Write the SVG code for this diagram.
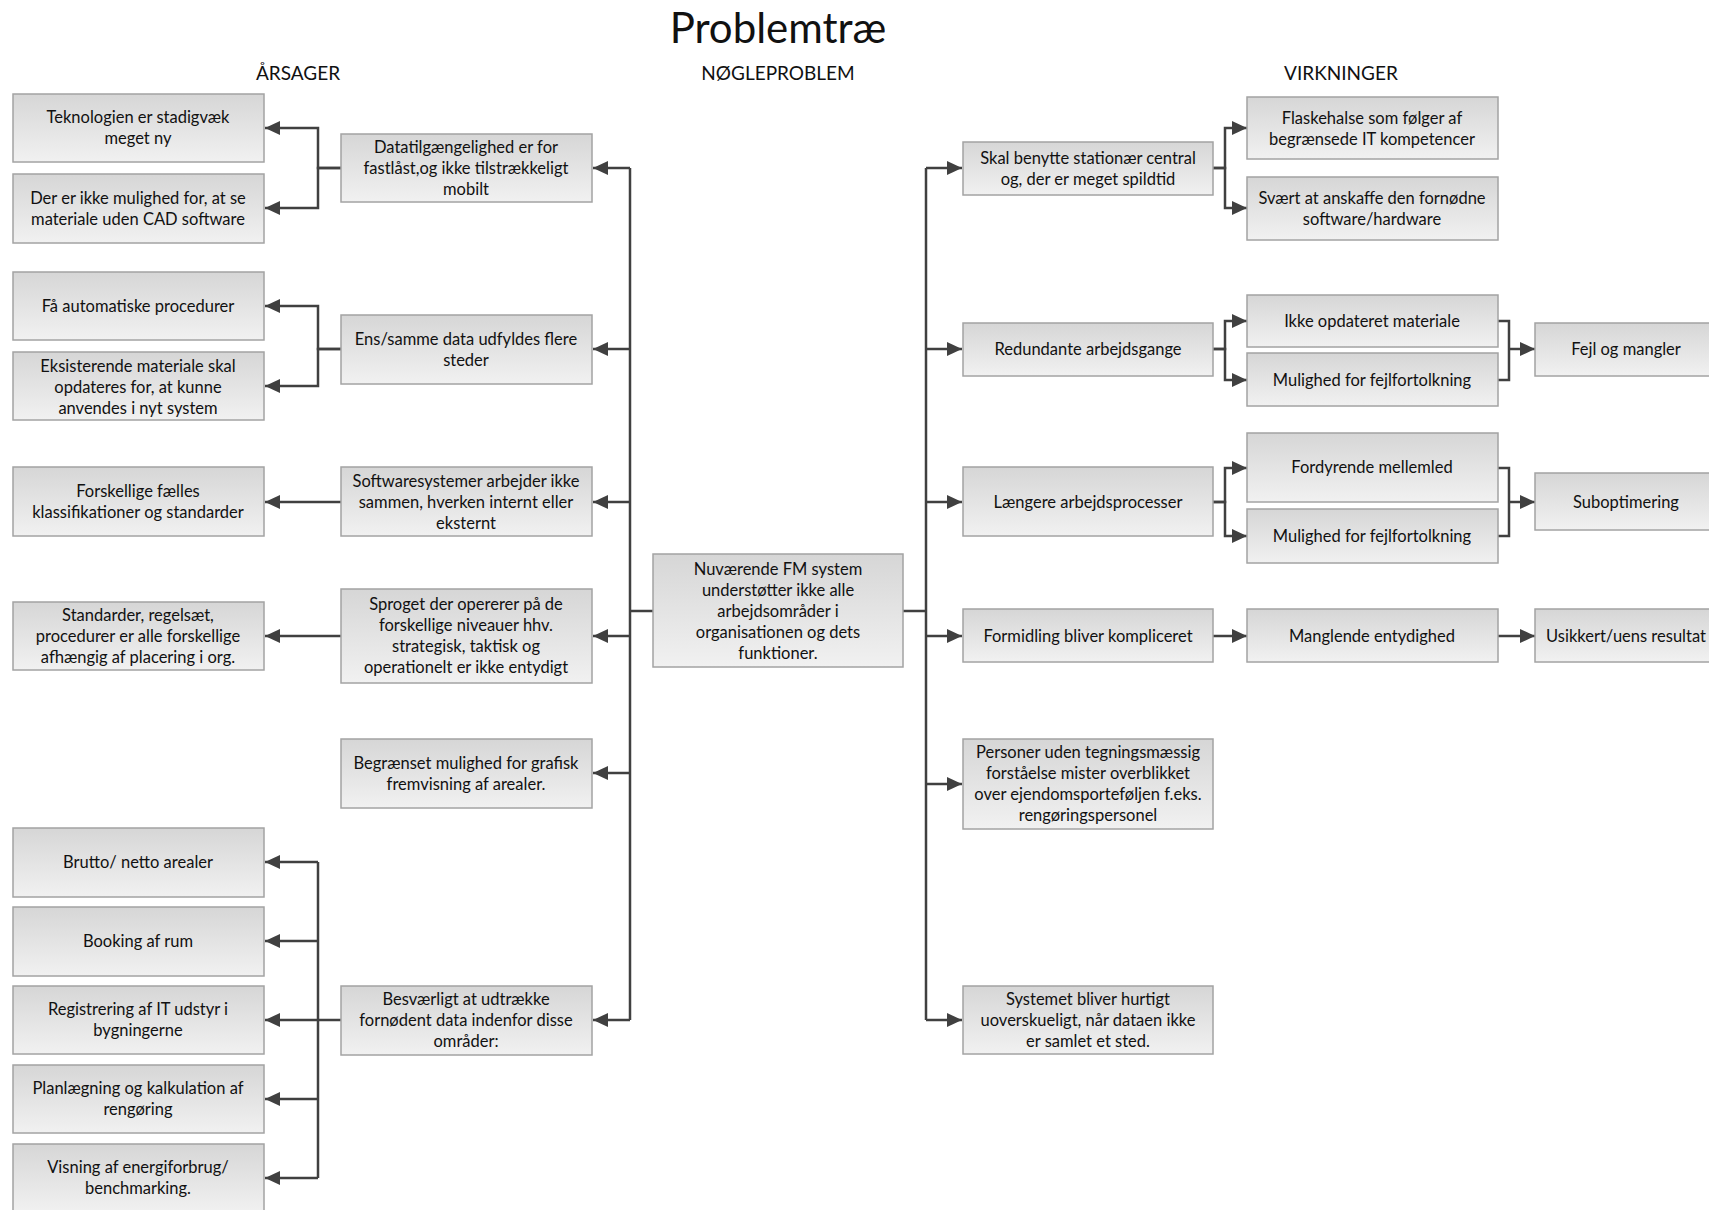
<svg xmlns="http://www.w3.org/2000/svg" width="1709" height="1210" viewBox="0 0 1709 1210">
  <defs>
    <linearGradient id="boxFill" x1="0" y1="0" x2="0" y2="1">
      <stop offset="0" stop-color="#d6d6d6"/>
      <stop offset="1" stop-color="#f1f1f1"/>
    </linearGradient>
    <marker id="ah" markerUnits="userSpaceOnUse" markerWidth="16" markerHeight="14" refX="15" refY="7" orient="auto">
      <path d="M0,0 L15,7 L0,14 z" fill="#404040"/>
    </marker>
  </defs>
  <style>
    .box { fill: url(#boxFill); stroke: #a3a3a3; stroke-width: 1.5; }
    .lbl { font-family: Lato, "Liberation Sans", sans-serif; font-size: 16.5px; fill: #111111; text-anchor: middle; dominant-baseline: central; }
    .hdr { font-family: Lato, "Liberation Sans", sans-serif; font-size: 19px; fill: #111111; text-anchor: middle; }
    .title { font-family: Lato, "Liberation Sans", sans-serif; font-size: 42px; fill: #111111; text-anchor: middle; }
    .ln { fill: none; stroke: #404040; stroke-width: 2.5; }
    .ar { fill: none; stroke: #404040; stroke-width: 2.5; marker-end: url(#ah); }
  </style>
  <rect width="1709" height="1210" fill="#ffffff"/>

  <!-- headings -->
  <text class="title" x="778" y="43">Problemtræ</text>
  <text class="hdr" x="298" y="80">ÅRSAGER</text>
  <text class="hdr" x="778" y="80">NØGLEPROBLEM</text>
  <text class="hdr" x="1341" y="80">VIRKNINGER</text>

  <!-- connectors -->
  <g id="connectors">
    <!-- causes branch -->
    <path class="ln" d="M653,611 H630 M630,168 V1020"/>
    <path class="ar" d="M630,168 H593"/>
    <path class="ar" d="M630,349 H593"/>
    <path class="ar" d="M630,502 H593"/>
    <path class="ar" d="M630,636 H593"/>
    <path class="ar" d="M630,773 H593"/>
    <path class="ar" d="M630,1020 H593"/>

    <path class="ar" d="M341,168 H318 V128 H265"/>
    <path class="ar" d="M341,168 H318 V208 H265"/>
    <path class="ar" d="M341,349 H318 V306 H265"/>
    <path class="ar" d="M341,349 H318 V386 H265"/>
    <path class="ar" d="M341,502 H265"/>
    <path class="ar" d="M341,636 H265"/>
    <path class="ln" d="M341,1020 H318 M318,862 V1178"/>
    <path class="ar" d="M318,862 H265"/>
    <path class="ar" d="M318,941 H265"/>
    <path class="ar" d="M318,1020 H265"/>
    <path class="ar" d="M318,1099 H265"/>
    <path class="ar" d="M318,1178 H265"/>

    <!-- effects branch -->
    <path class="ln" d="M903,611 H926 M926,168 V1020"/>
    <path class="ar" d="M926,168 H962"/>
    <path class="ar" d="M926,349 H962"/>
    <path class="ar" d="M926,502 H962"/>
    <path class="ar" d="M926,636 H962"/>
    <path class="ar" d="M926,784 H962"/>
    <path class="ar" d="M926,1020 H962"/>

    <path class="ar" d="M1213,168 H1225 V128 H1247"/>
    <path class="ar" d="M1213,168 H1225 V208 H1247"/>
    <path class="ar" d="M1213,349 H1225 V321 H1247"/>
    <path class="ar" d="M1213,349 H1225 V380 H1247"/>
    <path class="ln" d="M1498,321 H1509 V380 H1498"/>
    <path class="ar" d="M1509,349 H1535"/>
    <path class="ar" d="M1213,502 H1225 V468 H1247"/>
    <path class="ar" d="M1213,502 H1225 V536 H1247"/>
    <path class="ln" d="M1498,468 H1509 V536 H1498"/>
    <path class="ar" d="M1509,502 H1535"/>
    <path class="ar" d="M1213,636 H1247"/>
    <path class="ar" d="M1498,636 H1535"/>
  </g>

  <!-- key problem -->
  <g id="core">
    <rect class="box" x="653" y="554" width="250" height="113"/>
    <text class="lbl" x="778" y="569">Nuværende FM system</text>
    <text class="lbl" x="778" y="590">understøtter ikke alle</text>
    <text class="lbl" x="778" y="611">arbejdsområder i</text>
    <text class="lbl" x="778" y="632">organisationen og dets</text>
    <text class="lbl" x="778" y="653">funktioner.</text>
  </g>

  <!-- causes -->
  <g id="c1">
    <rect class="box" x="341" y="134" width="251" height="68"/>
    <text class="lbl" x="466" y="147">Datatilgængelighed er for</text>
    <text class="lbl" x="466" y="168">fastlåst,og ikke tilstrækkeligt</text>
    <text class="lbl" x="466" y="189">mobilt</text>
  </g>
  <g id="c2">
    <rect class="box" x="341" y="315" width="251" height="69"/>
    <text class="lbl" x="466" y="339">Ens/samme data udfyldes flere</text>
    <text class="lbl" x="466" y="360">steder</text>
  </g>
  <g id="c3">
    <rect class="box" x="341" y="467" width="251" height="69"/>
    <text class="lbl" x="466" y="481">Softwaresystemer arbejder ikke</text>
    <text class="lbl" x="466" y="502">sammen, hverken internt eller</text>
    <text class="lbl" x="466" y="523">eksternt</text>
  </g>
  <g id="c4">
    <rect class="box" x="341" y="589" width="251" height="94"/>
    <text class="lbl" x="466" y="604">Sproget der opererer på de</text>
    <text class="lbl" x="466" y="625">forskellige niveauer hhv.</text>
    <text class="lbl" x="466" y="646">strategisk, taktisk og</text>
    <text class="lbl" x="466" y="667">operationelt er ikke entydigt</text>
  </g>
  <g id="c5">
    <rect class="box" x="341" y="739" width="251" height="69"/>
    <text class="lbl" x="466" y="763">Begrænset mulighed for grafisk</text>
    <text class="lbl" x="466" y="784">fremvisning af arealer.</text>
  </g>
  <g id="c6">
    <rect class="box" x="341" y="986" width="251" height="69"/>
    <text class="lbl" x="466" y="999">Besværligt at udtrække</text>
    <text class="lbl" x="466" y="1020">fornødent data indenfor disse</text>
    <text class="lbl" x="466" y="1041">områder:</text>
  </g>

  <!-- root causes -->
  <g id="r1">
    <rect class="box" x="13" y="94" width="251" height="68"/>
    <text class="lbl" x="138" y="117">Teknologien er stadigvæk</text>
    <text class="lbl" x="138" y="138">meget ny</text>
  </g>
  <g id="r2">
    <rect class="box" x="13" y="174" width="251" height="69"/>
    <text class="lbl" x="138" y="198">Der er ikke mulighed for, at se</text>
    <text class="lbl" x="138" y="219">materiale uden CAD software</text>
  </g>
  <g id="r3">
    <rect class="box" x="13" y="272" width="251" height="68"/>
    <text class="lbl" x="138" y="306">Få automatiske procedurer</text>
  </g>
  <g id="r4">
    <rect class="box" x="13" y="352" width="251" height="68"/>
    <text class="lbl" x="138" y="366">Eksisterende materiale skal</text>
    <text class="lbl" x="138" y="387">opdateres  for, at kunne</text>
    <text class="lbl" x="138" y="408">anvendes i nyt system</text>
  </g>
  <g id="r5">
    <rect class="box" x="13" y="467" width="251" height="69"/>
    <text class="lbl" x="138" y="491">Forskellige fælles</text>
    <text class="lbl" x="138" y="512">klassifikationer og standarder</text>
  </g>
  <g id="r6">
    <rect class="box" x="13" y="602" width="251" height="68"/>
    <text class="lbl" x="138" y="615">Standarder, regelsæt,</text>
    <text class="lbl" x="138" y="636">procedurer er alle forskellige</text>
    <text class="lbl" x="138" y="657">afhængig af placering i org.</text>
  </g>
  <g id="r7">
    <rect class="box" x="13" y="828" width="251" height="69"/>
    <text class="lbl" x="138" y="862">Brutto/ netto arealer</text>
  </g>
  <g id="r8">
    <rect class="box" x="13" y="907" width="251" height="69"/>
    <text class="lbl" x="138" y="941">Booking af rum</text>
  </g>
  <g id="r9">
    <rect class="box" x="13" y="986" width="251" height="68"/>
    <text class="lbl" x="138" y="1009">Registrering af IT udstyr i</text>
    <text class="lbl" x="138" y="1030">bygningerne</text>
  </g>
  <g id="r10">
    <rect class="box" x="13" y="1065" width="251" height="68"/>
    <text class="lbl" x="138" y="1088">Planlægning og kalkulation af</text>
    <text class="lbl" x="138" y="1109">rengøring</text>
  </g>
  <g id="r11">
    <rect class="box" x="13" y="1144" width="251" height="68"/>
    <text class="lbl" x="138" y="1167">Visning af energiforbrug/</text>
    <text class="lbl" x="138" y="1188">benchmarking.</text>
  </g>

  <!-- effects -->
  <g id="e1">
    <rect class="box" x="963" y="142" width="250" height="53"/>
    <text class="lbl" x="1088" y="158">Skal benytte stationær central</text>
    <text class="lbl" x="1088" y="179">og, der er meget spildtid</text>
  </g>
  <g id="e2">
    <rect class="box" x="963" y="323" width="250" height="53"/>
    <text class="lbl" x="1088" y="349">Redundante arbejdsgange</text>
  </g>
  <g id="e3">
    <rect class="box" x="963" y="467" width="250" height="69"/>
    <text class="lbl" x="1088" y="502">Længere arbejdsprocesser</text>
  </g>
  <g id="e4">
    <rect class="box" x="963" y="609" width="250" height="53"/>
    <text class="lbl" x="1088" y="636">Formidling bliver kompliceret</text>
  </g>
  <g id="e5">
    <rect class="box" x="963" y="739" width="250" height="90"/>
    <text class="lbl" x="1088" y="752">Personer uden tegningsmæssig</text>
    <text class="lbl" x="1088" y="773">forståelse mister overblikket</text>
    <text class="lbl" x="1088" y="794">over ejendomsporteføljen f.eks.</text>
    <text class="lbl" x="1088" y="815">rengøringspersonel</text>
  </g>
  <g id="e6">
    <rect class="box" x="963" y="986" width="250" height="68"/>
    <text class="lbl" x="1088" y="999">Systemet bliver hurtigt</text>
    <text class="lbl" x="1088" y="1020">uoverskueligt, når dataen ikke</text>
    <text class="lbl" x="1088" y="1041">er samlet et sted.</text>
  </g>

  <!-- consequences -->
  <g id="s1">
    <rect class="box" x="1247" y="97" width="251" height="62"/>
    <text class="lbl" x="1372" y="118">Flaskehalse som følger af</text>
    <text class="lbl" x="1372" y="139">begrænsede IT kompetencer</text>
  </g>
  <g id="s2">
    <rect class="box" x="1247" y="177" width="251" height="63"/>
    <text class="lbl" x="1372" y="198">Svært at anskaffe den fornødne</text>
    <text class="lbl" x="1372" y="219">software/hardware</text>
  </g>
  <g id="s3">
    <rect class="box" x="1247" y="295" width="251" height="52"/>
    <text class="lbl" x="1372" y="321">Ikke opdateret materiale</text>
  </g>
  <g id="s4">
    <rect class="box" x="1247" y="353" width="251" height="53"/>
    <text class="lbl" x="1372" y="380">Mulighed for fejlfortolkning</text>
  </g>
  <g id="s5">
    <rect class="box" x="1247" y="433" width="251" height="69"/>
    <text class="lbl" x="1372" y="467">Fordyrende mellemled</text>
  </g>
  <g id="s6">
    <rect class="box" x="1247" y="509" width="251" height="54"/>
    <text class="lbl" x="1372" y="536">Mulighed for fejlfortolkning</text>
  </g>
  <g id="s7">
    <rect class="box" x="1247" y="609" width="251" height="53"/>
    <text class="lbl" x="1372" y="636">Manglende entydighed</text>
  </g>

  <!-- outcomes -->
  <g id="o1">
    <rect class="box" x="1535" y="323" width="251" height="53"/>
    <text class="lbl" x="1626" y="349">Fejl og mangler</text>
  </g>
  <g id="o2">
    <rect class="box" x="1535" y="473" width="251" height="57"/>
    <text class="lbl" x="1626" y="502">Suboptimering</text>
  </g>
  <g id="o3">
    <rect class="box" x="1535" y="609" width="251" height="53"/>
    <text class="lbl" x="1626" y="636">Usikkert/uens resultat</text>
  </g>
</svg>
